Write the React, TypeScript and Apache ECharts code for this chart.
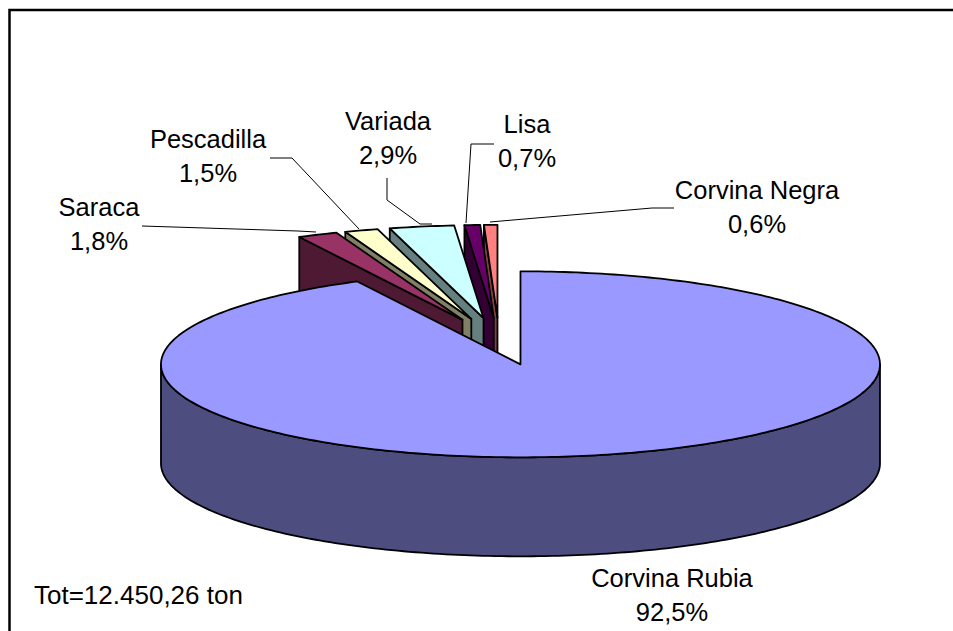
import React, { useEffect, useRef } from "react";
import * as echarts from "echarts";

const species = ["Corvina Rubia", "Saraca", "Pescadilla", "Variada", "Lisa", "Corvina Negra"];
const shares = [92.5, 1.8, 1.5, 2.9, 0.7, 0.6];
const shareLabels = ["92,5%", "1,8%", "1,5%", "2,9%", "0,7%", "0,6%"];
const totalNote = "Tot=12.450,26 ton";

const topColors = ["#9999FF", "#993366", "#FFFFCC", "#CCFFFF", "#660066", "#FF8080"];
const wallColors = ["#4D4D80", "#4D1933", "#808066", "#668080", "#330033", "#804040"];

// Projection of the exploded 3D pie
const CX = 499.2;
const CY = 341.4;
const RX = 359.5;
const RY = 93;
const DEPTH = 99;
const EXPLODE = 0.2535;
const STROKE = 1.8;

const rad = (deg: number) => (deg * Math.PI) / 180;

function sliceGeometry(index: number) {
  const total = shares.reduce((a, b) => a + b, 0);
  let start = 0;
  for (let i = 0; i < index; i++) start += (shares[i] / total) * 360;
  const end = start + (shares[index] / total) * 360;
  const mid = rad((start + end) / 2);
  const tx = CX + EXPLODE * RX * Math.sin(mid);
  const ty = CY - EXPLODE * RY * Math.cos(mid);
  const at = (deg: number): [number, number] => [
    tx + RX * Math.sin(rad(deg)),
    ty - RY * Math.cos(rad(deg)),
  ];
  return { start, end, tx, ty, at };
}

function renderSlice(_params: any, api: any) {
  const index = api.value(0);
  const { start, end, tx, ty, at } = sliceGeometry(index);
  const lineStyle = { stroke: "#000", lineWidth: STROKE, lineJoin: "round" };
  const top: number[][] = [[tx, ty]];
  const steps = Math.max(2, Math.ceil(end - start));
  for (let i = 0; i <= steps; i++) top.push(at(start + ((end - start) * i) / steps));
  const children: any[] = [];
  if (index === 0) {
    // outer cylinder wall: the front half of the big slice
    const front: number[][] = [];
    for (let d = 90; d <= 270; d++) front.push(at(d));
    const back: number[][] = [];
    for (let d = 270; d >= 90; d--) {
      const p = at(d);
      back.push([p[0], p[1] + DEPTH]);
    }
    children.push({
      type: "polygon",
      shape: { points: front.concat(back) },
      style: { fill: wallColors[index], ...lineStyle },
    });
  } else {
    // radial wall under the slice's leading edge
    const c = at(start);
    children.push({
      type: "polygon",
      shape: { points: [c, [tx, ty], [tx, ty + DEPTH], [c[0], c[1] + DEPTH]] },
      style: { fill: wallColors[index], ...lineStyle },
    });
  }
  children.push({
    type: "polygon",
    shape: { points: top },
    style: { fill: topColors[index], ...lineStyle },
  });
  return { type: "group", children };
}

// painter's order: the far slices first, each nearer one over it, the big slice last
const drawOrder = [5, 4, 3, 2, 1, 0];

const labelCentres: Record<string, [number, number]> = {
  "Corvina Rubia": [672, 578],
  Saraca: [99, 207],
  Pescadilla: [208, 139],
  Variada: [388, 121],
  Lisa: [527, 124],
  "Corvina Negra": [757, 190],
};

const leaders: number[][][] = [
  [[142, 226], [298, 231], [316, 232]],
  [[270, 158], [292, 158], [359, 229]],
  [[387, 178], [387, 200], [420, 224], [432, 224]],
  [[494, 144], [471, 144], [466, 223]],
  [[674, 208], [652, 208], [490, 222]],
];

const FONT = '"Liberation Sans", Arial, sans-serif';
const FONT_SIZE = 25.5;

export default function App() {
  const ref = useRef<HTMLDivElement>(null);
  useEffect(() => {
    document.body.style.margin = "0";
    const chart = echarts.init(ref.current!, undefined, { renderer: "svg" });
    const labels = species.flatMap((name, i) => {
      const [x, y] = labelCentres[name];
      return [
        { type: "text", x, y, style: { text: name, font: `${FONT_SIZE}px ${FONT}`, fill: "#000", align: "center", verticalAlign: "middle" } },
        { type: "text", x, y: y + 34, style: { text: shareLabels[i], font: `${FONT_SIZE}px ${FONT}`, fill: "#000", align: "center", verticalAlign: "middle" } },
      ];
    });
    chart.setOption({
      animation: false,
      backgroundColor: "#FFFFFF",
      series: [
        {
          type: "custom",
          coordinateSystem: "none",
          silent: true,
          clip: false,
          data: drawOrder.map((i) => [i, shares[i]]),
          renderItem: renderSlice,
        },
      ],
      graphic: {
        elements: [
          { type: "polyline", shape: { points: [[9.5, 631], [9.5, 10], [953, 10]] }, style: { stroke: "#000", lineWidth: 2.5, fill: "none" }, z: 10 },
          ...leaders.map((points) => ({ type: "polyline", shape: { points }, style: { stroke: "#000", lineWidth: 1, fill: "none" }, z: 10 })),
          ...labels.map((l) => ({ ...l, z: 11 })),
          { type: "text", x: 34, y: 595, z: 11, style: { text: totalNote, font: `26px ${FONT}`, fill: "#000", align: "left", verticalAlign: "middle" } },
        ],
      },
    });
    return () => chart.dispose();
  }, []);
  return <div ref={ref} style={{ position: "fixed", left: 0, top: 0, width: 953, height: 631 }} />;
}
